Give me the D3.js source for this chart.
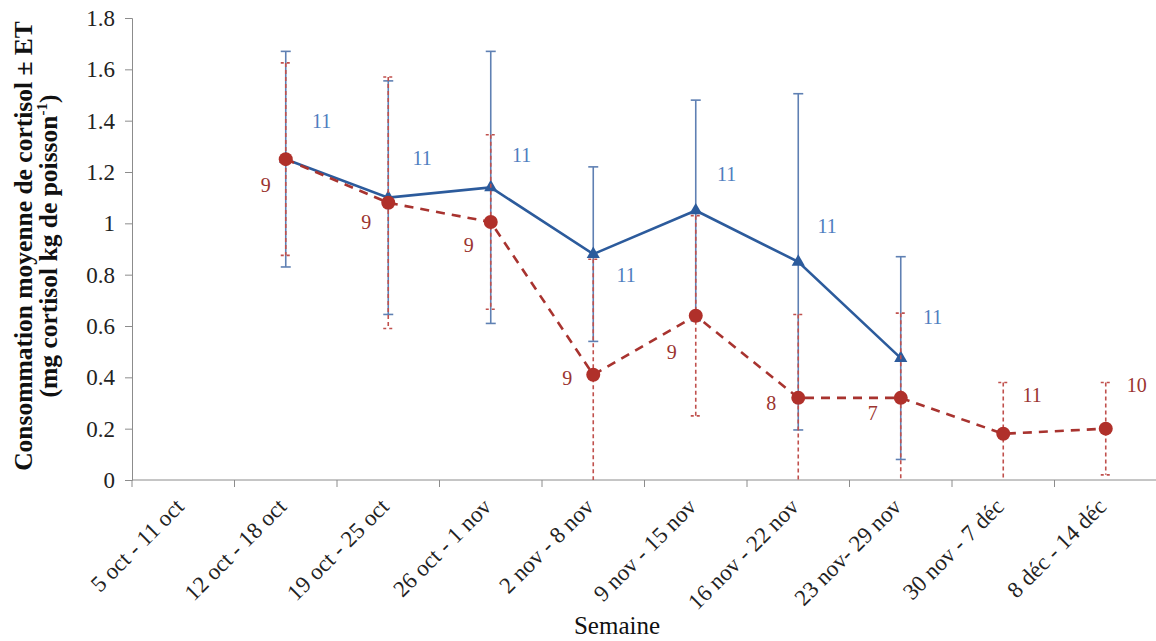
<!DOCTYPE html>
<html>
<head>
<meta charset="utf-8">
<script src="https://cdn.jsdelivr.net/npm/d3@7"></script>
<style>
  body { margin: 0; background: #fff; }
  svg text, svg tspan { font-family: "Liberation Serif", "Times New Roman", serif !important; }
</style>
</head>
<body>
<svg id="chart" font-family="Liberation Serif, serif"></svg>
<script>
// weeks on the x axis
const weeks = ["5 oct - 11 oct", "12 oct - 18 oct", "19 oct - 25 oct", "26 oct - 1 nov", "2 nov - 8 nov",
    "9 nov - 15 nov", "16 nov - 22 nov", "23 nov- 29 nov", "30 nov - 7 déc", "8 déc - 14 déc"]
// blue series (solid line, triangles)
const blueMean = [null, 1.25, 1.10, 1.14, 0.88, 1.05, 0.85, 0.475, null, null]
const blueErr = [null, 0.42, 0.455, 0.53, 0.34, 0.43, 0.655, 0.395, null, null]
const blueN = [null, 11, 11, 11, 11, 11, 11, 11, null, null]
// red series (dashed line, circles)
const redMean = [null, 1.25, 1.08, 1.005, 0.41, 0.64, 0.32, 0.32, 0.18, 0.20]
const redErr = [null, 0.375, 0.49, 0.34, 0.45, 0.39, 0.325, 0.33, 0.20, 0.18]
const redN = [null, 9, 9, 9, 9, 9, 8, 7, 11, 10]
const yTicks = [0, 0.2, 0.4, 0.6, 0.8, 1, 1.2, 1.4, 1.6, 1.8]

// hand placement of the n labels, px from their point
const blueLabelOffset = [null, [36, -38], [34, -40], [31, -32], [33, 21], [31, -37], [29, -36], [32, -41], null, null]
const redLabelOffset = [null, [-20, 26], [-22, 19], [-22, 23], [-26, 3], [-24, 36], [-27, 5], [-28, 15], [29, -39], [31, -44]]

const width = 1156, height = 641
const margin = {left: 132, top: 18, bottom: 161}
const serif = '"Liberation Serif", "Times New Roman", serif'

const svg = d3.select('#chart')
    .attr('width', width)
    .attr('height', height)

const x = d3.scaleBand()
    .domain(weeks)
    .range([margin.left, margin.left + 102.5 * weeks.length])
    .padding(0)
const y = d3.scaleLinear()
    .domain([0, 1.8])
    .range([height - margin.bottom, margin.top])

const cx = w => x(w) + x.bandwidth() / 2
const axisColor = '#8c8c8c'

// y axis
const yAxis = svg.append('g')
    .attr('transform', `translate(${margin.left},0)`)
    .call(d3.axisLeft(y).tickValues(yTicks).tickSize(7).tickPadding(10)
        .tickFormat(d => String(+d.toFixed(1))))
    .attr('font-family', serif)
yAxis.select('.domain').attr('stroke', axisColor)
yAxis.selectAll('.tick line').attr('stroke', axisColor)
yAxis.selectAll('.tick text')
    .attr('font-size', 23)
    .attr('fill', '#222')

// x axis: line plus ticks between categories
const x0 = y(0)
svg.append('line')
    .attr('x1', margin.left).attr('x2', x.range()[1])
    .attr('y1', x0).attr('y2', x0)
    .attr('stroke', axisColor)
svg.selectAll('.xtick')
    .data(weeks)
    .enter().append('line')
    .attr('class', 'xtick')
    .attr('x1', d => x(d)).attr('x2', d => x(d))
    .attr('y1', x0).attr('y2', x0 + 7)
    .attr('stroke', axisColor)
svg.selectAll('.xlabel')
    .data(weeks)
    .enter().append('text')
    .attr('class', 'xlabel')
    .attr('text-anchor', 'end')
    .attr('font-size', 23)
    .attr('fill', '#222')
    .attr('transform', d => `translate(${cx(d) + 2},${x0 + 28}) rotate(-45)`)
    .text(d => d)

// axis titles
svg.append('text')
    .attr('x', 617).attr('y', 634)
    .attr('text-anchor', 'middle')
    .attr('font-size', 25)
    .attr('fill', '#111')
    .text('Semaine')

const yTitle = svg.append('text')
    .attr('transform', 'translate(0,246) rotate(-90)')
    .attr('text-anchor', 'middle')
    .attr('font-size', 25.5)
    .attr('font-weight', 'bold')
    .attr('fill', '#111')
yTitle.append('tspan').attr('x', 0).attr('y', 32)
    .text('Consommation moyenne de cortisol ± ET')
const line2 = yTitle.append('tspan').attr('x', 0).attr('y', 57)
line2.append('tspan').text('(mg cortisol kg de poisson')
line2.append('tspan').attr('font-size', 15).attr('dy', -10).text('-1')
line2.append('tspan').attr('dy', 10).text(')')

// error bars
const drawErrors = (mean, err, cls, color, dash) => {
    const rows = weeks.map((w, i) => ({w, m: mean[i], e: err[i]})).filter(d => d.m !== null)
    const g = svg.append('g').attr('class', cls)
    g.selectAll('.bar')
        .data(rows)
        .enter().append('line')
        .attr('x1', d => cx(d.w)).attr('x2', d => cx(d.w))
        .attr('y1', d => y(d.m + d.e))
        .attr('y2', d => y(Math.max(0, d.m - d.e)))
        .attr('stroke', color).attr('stroke-width', 1.6)
        .attr('stroke-dasharray', dash)
    const caps = rows.flatMap(d => [d.m + d.e, d.m - d.e].filter(v => v >= 0).map(v => ({w: d.w, v})))
    g.selectAll('.cap')
        .data(caps)
        .enter().append('line')
        .attr('x1', d => cx(d.w) - 5).attr('x2', d => cx(d.w) + 5)
        .attr('y1', d => y(d.v)).attr('y2', d => y(d.v))
        .attr('stroke', color).attr('stroke-width', 1.6)
        .attr('stroke-dasharray', dash ? '3,3' : null)
}

const blueRows = weeks.map((w, i) => ({w, m: blueMean[i], n: blueN[i], o: blueLabelOffset[i]})).filter(d => d.m !== null)
const redRows = weeks.map((w, i) => ({w, m: redMean[i], n: redN[i], o: redLabelOffset[i]})).filter(d => d.m !== null)

const line = d3.line().x(d => cx(d.w)).y(d => y(d.m))

// blue series
drawErrors(blueMean, blueErr, 'blueErr', '#5f80b3', null)
svg.append('path')
    .datum(blueRows)
    .attr('fill', 'none')
    .attr('stroke', '#2c5b9c')
    .attr('stroke-width', 2.6)
    .attr('d', line)
svg.selectAll('.tri')
    .data(blueRows)
    .enter().append('path')
    .attr('class', 'tri')
    .attr('fill', '#2c5b9c')
    .attr('transform', d => `translate(${cx(d.w)},${y(d.m)})`)
    .attr('d', d3.symbol(d3.symbolTriangle, 75))

// red series
drawErrors(redMean, redErr, 'redErr', '#c0504d', '4,3')
svg.append('path')
    .datum(redRows)
    .attr('fill', 'none')
    .attr('stroke', '#a8332f')
    .attr('stroke-width', 2.6)
    .attr('stroke-dasharray', '9,7')
    .attr('d', line)
svg.selectAll('.dot')
    .data(redRows)
    .enter().append('circle')
    .attr('class', 'dot')
    .attr('fill', '#b0302a')
    .attr('cx', d => cx(d.w))
    .attr('cy', d => y(d.m))
    .attr('r', 7)

// n labels
svg.selectAll('.blueN')
    .data(blueRows)
    .enter().append('text')
    .attr('class', 'blueN')
    .attr('x', d => cx(d.w) + d.o[0])
    .attr('y', d => y(d.m) + d.o[1])
    .attr('text-anchor', 'middle')
    .attr('dominant-baseline', 'central')
    .attr('font-size', 20)
    .attr('fill', '#4f7ec0')
    .text(d => d.n)
svg.selectAll('.redN')
    .data(redRows)
    .enter().append('text')
    .attr('class', 'redN')
    .attr('x', d => cx(d.w) + d.o[0])
    .attr('y', d => y(d.m) + d.o[1])
    .attr('text-anchor', 'middle')
    .attr('dominant-baseline', 'central')
    .attr('font-size', 20)
    .attr('fill', '#9b3430')
    .text(d => d.n)
</script>
</body>
</html>
